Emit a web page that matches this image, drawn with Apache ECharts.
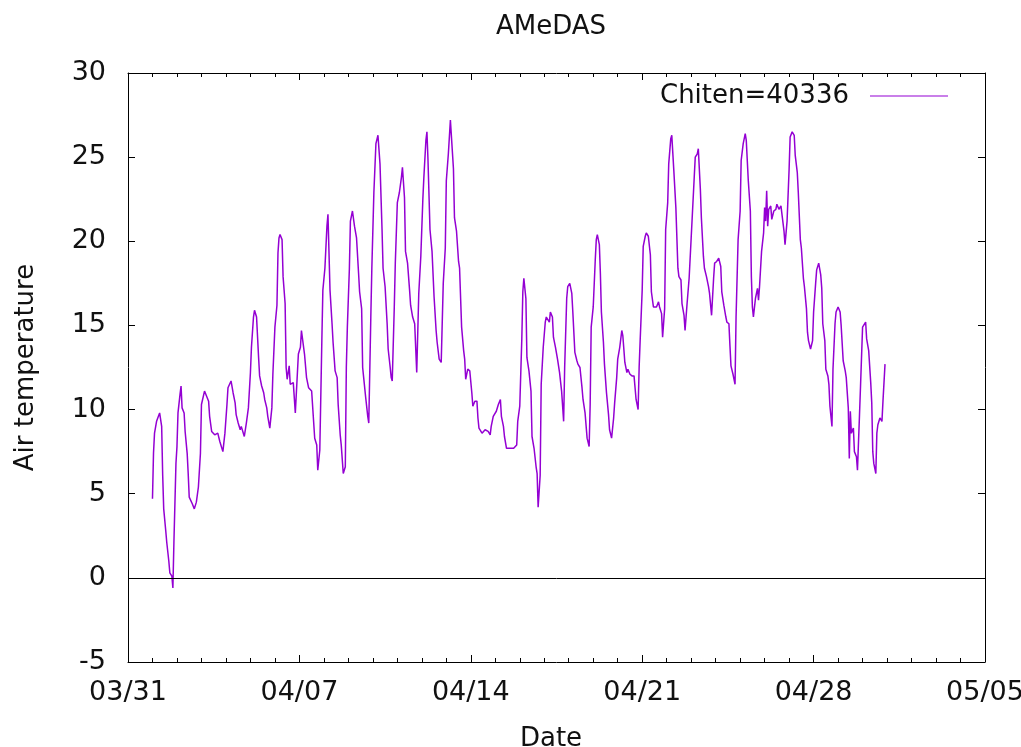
<!DOCTYPE html>
<html>
<head>
<meta charset="utf-8">
<script src="https://cdn.jsdelivr.net/npm/echarts@6/dist/echarts.min.js"></script>
<style>html,body{margin:0;padding:0;background:#fff}#c{width:1021px;height:747px}</style>
</head>
<body>
<div id="c"></div>
<script>
// Hours since 04/01 00:00 and air temperature (deg C)
const hours = [0,1,2,4,7,9,10,11,13,14,16,17,19,20,21,23,24,25,27,28,29,31,32,34,35,36,39,41,43,45,47,48,51,55,56,58,61,64,66,69,71,73,74,77,79,81,82,84,86,87,90,92,94,96,97,99,100,102,104,105,107,109,110,112,113,115,117,118,120,122,123,124,125,127,128,130,131,132,134,135,138,140,143,145,146,147,149,151,153,156,159,161,162,164,166,167,169,171,172,174,176,177,179,181,182,184,185,187,189,190,191,193,194,196,198,200,202,203,205,206,207,209,211,212,214,215,217,219,220,221,223,225,226,228,230,231,233,234,235,237,238,240,242,244,245,247,248,250,252,253,255,257,259,261,263,265,266,268,269,270,272,274,276,278,279,281,283,285,287,288,290,292,293,295,296,298,300,301,303,305,306,307,309,311,313,314,316,318,319,320,323,326,329,331,332,334,337,339,341,342,344,345,347,350,354,355,357,358,360,362,363,364,366,367,369,371,372,374,376,377,378,380,381,383,385,386,389,390,392,393,395,397,398,399,401,403,404,406,407,409,411,412,414,416,417,419,421,422,424,425,426,428,429,430,432,434,435,436,438,439,440,442,443,445,447,448,450,452,453,455,456,458,460,461,463,465,466,468,470,472,473,474,476,477,478,480,481,483,484,486,488,489,491,492,494,496,497,499,500,502,503,505,506,508,509,511,513,515,516,518,519,521,522,524,526,528,529,531,532,534,535,537,538,540,541,543,545,546,548,550,551,553,555,557,558,560,562,563,565,566,567,569,571,572,574,576,577,579,581,582,584,586,587,588,589,591,593,594,595,597,599,600,601,602,603,604,606,607,609,611,612,614,616,617,619,620,622,624,625,627,629,630,632,633,635,636,638,639,641,642,643,645,647,648,650,651,653,655,656,657,659,660,662,663,664,666,667,669,670,672,674,675,677,679,680,682,683,684,685,687,688,690,691,693,694,696,697,699,700,702,704,705,706,707,709,710,711,713,715,716,718];
const temps = [4.7,7.4,8.6,9.3,9.8,9.0,6.1,4.1,2.8,2.1,1.0,0.3,0.1,-0.6,2.1,6.8,7.8,9.8,10.9,11.4,10.1,9.8,8.7,7.4,6.2,4.8,4.4,4.1,4.5,5.4,7.4,10.3,11.1,10.5,9.6,8.7,8.5,8.6,8.1,7.5,8.6,10.3,11.3,11.7,11.0,10.4,9.7,9.2,8.8,9.0,8.4,9.2,10.1,12.2,13.7,15.5,15.9,15.5,13.1,12.0,11.4,11.0,10.6,10.1,9.6,8.9,10.1,12.1,14.9,16.2,19.3,20.2,20.4,20.1,17.9,16.3,12.5,11.8,12.6,11.5,11.6,9.8,13.3,13.7,14.7,14.8,13.3,11.9,11.3,11.1,8.3,7.9,6.4,7.6,14.1,17.1,18.4,20.9,21.6,17.1,15.1,14.0,12.3,11.9,10.3,8.5,7.9,6.2,6.6,12.5,14.9,18.4,21.2,21.8,20.9,20.2,18.1,17.0,16.0,12.5,11.9,10.7,9.6,9.2,15.5,18.4,22.9,25.8,25.9,26.3,24.6,20.7,18.4,17.3,15.1,13.6,12.5,11.9,11.7,16.1,18.7,22.3,22.9,23.8,24.4,22.6,19.4,18.7,17.1,16.2,15.5,15.1,12.2,16.9,19.1,22.5,23.8,26.0,26.5,24.9,20.7,19.4,16.7,14.7,14.0,13.0,12.8,17.5,19.6,23.6,25.2,27.2,27.3,24.3,21.4,20.6,18.8,18.4,14.9,13.5,13.0,11.8,12.4,12.3,11.0,10.2,10.5,10.5,9.5,8.9,8.6,8.8,8.7,8.5,9.0,9.6,9.9,10.3,10.6,9.6,9.0,8.4,7.7,7.7,7.7,7.7,7.9,9.3,10.2,14.2,17.0,17.8,16.6,13.1,12.3,11.1,8.4,7.7,6.6,6.2,4.2,6.1,11.5,13.7,15.2,15.5,15.2,15.8,15.5,14.3,13.7,13.0,12.6,12.2,11.1,9.3,12.5,16.6,17.3,17.5,16.9,15.8,13.4,12.9,12.7,12.5,11.3,10.6,9.8,9.7,8.3,7.8,10.3,14.9,16.1,18.9,20.1,20.4,19.8,18.1,15.8,14.0,12.7,11.0,9.7,8.8,8.3,9.5,10.4,11.9,13.0,13.7,14.7,14.4,12.8,12.2,12.4,12.1,12.0,12.0,11.3,10.6,10.0,12.5,14.1,17.1,19.7,20.3,20.5,20.3,19.2,17.0,16.1,16.2,16.1,16.4,16.1,15.7,14.3,16.0,20.7,22.3,24.6,26.1,26.3,24.2,22.0,18.4,17.9,17.7,16.3,15.6,14.7,16.3,17.8,20.2,21.4,23.8,25.0,25.2,25.5,23.1,21.4,19.1,18.4,17.9,17.3,16.9,15.6,17.8,18.7,18.8,19.0,18.5,17.0,16.2,15.5,15.2,15.1,13.8,12.6,12.1,11.5,15.5,20.1,21.8,24.8,25.8,26.4,26.0,23.6,21.8,17.9,16.1,15.5,16.6,17.2,16.5,17.3,19.4,20.5,22.0,21.2,23.0,20.9,21.9,22.1,21.3,21.8,21.9,22.2,21.9,22.1,21.6,20.6,19.8,21.2,24.3,26.2,26.5,26.3,25.1,24.1,22.9,20.1,19.6,17.8,17.3,16.0,14.6,14.1,13.6,14.1,15.8,17.5,18.3,18.7,18.0,17.2,15.1,14.1,12.4,12.0,11.5,10.2,9.0,12.4,15.1,15.8,16.1,15.8,15.0,12.9,12.3,11.9,10.1,7.1,9.9,8.6,8.9,7.5,7.2,6.4,9.7,11.4,14.9,15.0,15.2,14.2,13.5,11.6,10.4,7.5,6.8,6.2,8.6,9.1,9.5,9.3,10.5,12.7];
// x axis runs in hours from 03/31 00:00
const xTickLabels = ['03/31','04/07','04/14','04/21','04/28','05/05'];
const yTicks = [-5,0,5,10,15,20,25,30];
const seriesName = 'Chiten=40336';

const FONT = 'DejaVu Sans';
const txt = {fontFamily: FONT, fontSize: 26, color: '#111'};
const tickTxt = {fontFamily: FONT, fontSize: 27, color: '#111'};
const hourOffset = 24;
const weekHours = 168;

const chart = echarts.init(document.getElementById('c'), null, {renderer: 'canvas'});
const xBase = {
  type: 'value', min: 0, max: weekHours * (xTickLabels.length - 1), interval: weekHours,
  axisLine: {show: true, onZero: false, lineStyle: {color: '#000', width: 1}},
  axisTick: {show: true, inside: true, length: 7, lineStyle: {color: '#000', width: 1}},
  minorTick: {show: true, splitNumber: 7, length: 4, lineStyle: {color: '#000', width: 1}},
  splitLine: {show: false}
};
const yBase = {
  type: 'value', min: yTicks[0], max: yTicks[yTicks.length - 1], interval: yTicks[1] - yTicks[0],
  axisLine: {show: true, onZero: false, lineStyle: {color: '#000', width: 1}},
  axisTick: {show: true, inside: true, length: 7, lineStyle: {color: '#000', width: 1}},
  splitLine: {show: false}
};
chart.setOption({
  animation: false,
  backgroundColor: '#fff',
  title: {
    text: 'AMeDAS', left: 546, top: 9, textAlign: 'center',
    textStyle: {fontFamily: FONT, fontSize: 26, fontWeight: 'normal', color: '#111'}
  },
  legend: {
    data: [seriesName], right: 68, top: 78, align: 'right',
    itemWidth: 78, itemHeight: 25, icon: 'path://M0,12H78V13H0Z',
    textStyle: Object.assign({padding: [0, 16, 0, 0]}, txt),
    selectedMode: false
  },
  grid: {left: 128, right: 36, top: 73, bottom: 85, containLabel: false, outerBoundsMode: 'none'},
  xAxis: [
    Object.assign({}, xBase, {
      position: 'bottom',
      name: 'Date', nameLocation: 'middle', nameGap: 64,
      nameTextStyle: Object.assign({padding: [0, 11, 0, 0]}, txt),
      axisLabel: Object.assign({margin: 17, formatter: v => xTickLabels[Math.round(v / weekHours)]}, tickTxt)
    }),
    Object.assign({}, xBase, {position: 'top', axisLabel: {show: false}})
  ],
  yAxis: [
    Object.assign({}, yBase, {
      position: 'left',
      name: 'Air temperature', nameLocation: 'middle', nameRotate: 90, nameGap: 89, nameTextStyle: txt,
      axisLabel: Object.assign({margin: 22}, tickTxt)
    }),
    Object.assign({}, yBase, {position: 'right', axisLabel: {show: false}})
  ],
  series: [{
    name: seriesName, type: 'line', xAxisIndex: 0, yAxisIndex: 0,
    data: hours.map((h, i) => [h + hourOffset, temps[i]]),
    symbol: 'none', showSymbol: false,
    lineStyle: {color: '#9400d3', width: 1.5},
    itemStyle: {color: '#9400d3'},
    markLine: {
      silent: true, symbol: 'none', label: {show: false},
      lineStyle: {color: '#000', width: 1, type: 'solid'},
      data: [{yAxis: 0}]
    },
    z: 3
  }]
});
</script>
</body>
</html>
